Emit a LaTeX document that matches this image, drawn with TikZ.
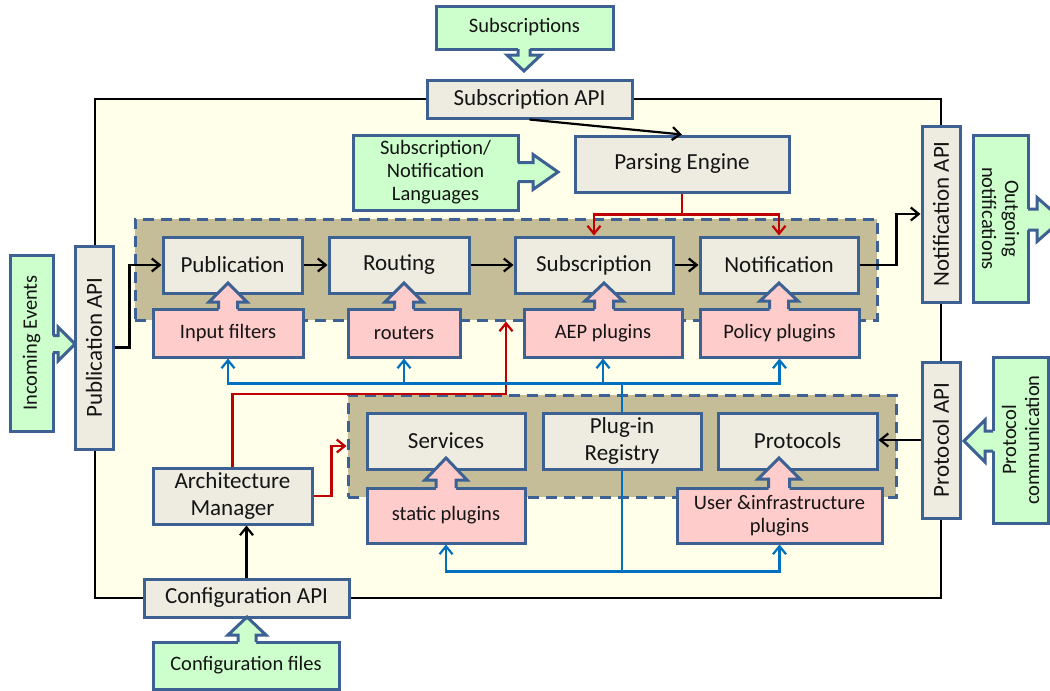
\documentclass[tikz,border=0pt]{standalone}
\usepackage{fontspec}
\setmainfont{Carlito}
\usetikzlibrary{arrows.meta}

\definecolor{bordc}{HTML}{3C6192}
\definecolor{grayf}{HTML}{EEECE1}
\definecolor{greenf}{HTML}{CCFFCC}
\definecolor{pinkf}{HTML}{FFCCCC}
\definecolor{tanf}{HTML}{C4BD97}
\definecolor{paper}{HTML}{FFFFEA}
\definecolor{redl}{HTML}{C00000}
\definecolor{bluel}{HTML}{0070C0}
\definecolor{inkc}{HTML}{141414}

\newcommand\lblbig{\fontsize{23}{26.5}\selectfont}
\newcommand\lblsmall{\fontsize{20.5}{23}\selectfont}

\tikzset{
  sz/.style 2 args={minimum width=#1pt, minimum height=#2pt},
  box/.style={draw=bordc, line width=3pt, inner sep=0pt, align=center, text=inkc, font=\lblbig},
  core/.style={box, fill=grayf},
  ext/.style={box, fill=greenf, font=\lblsmall},
  plug/.style={box, fill=pinkf, font=\lblsmall},
  grp/.style={draw=bordc, fill=tanf, line width=3pt, dash pattern=on 11pt off 7pt},
  frame/.style={draw=black, fill=paper, line width=2.8pt, inner sep=0pt},
  bord/.style={draw=bordc, line width=3pt},
  conn/.style={line width=2.2pt, -{Straight Barb[length=8pt,width=13pt]}},
  wire/.style={line width=2.2pt},
}

% block arrows growing out of a box edge
% #1 fill, #2 centre, #3 box edge, #4 head base, #5 tip, #6 stem half width, #7 head half width
\newcommand\blkup[7]{%
  \fill[#1] ({#2-#6},{#3+2}) -- ({#2-#6},#4) -- ({#2-#7},#4) -- (#2,#5) -- ({#2+#7},#4) -- ({#2+#6},#4) -- ({#2+#6},{#3+2}) -- cycle;
  \draw[bord] ({#2-#6},#3) -- ({#2-#6},#4) -- ({#2-#7},#4) -- (#2,#5) -- ({#2+#7},#4) -- ({#2+#6},#4) -- ({#2+#6},#3);}
\newcommand\blkdown[7]{%
  \fill[#1] ({#2-#6},{#3-2}) -- ({#2-#6},#4) -- ({#2-#7},#4) -- (#2,#5) -- ({#2+#7},#4) -- ({#2+#6},#4) -- ({#2+#6},{#3-2}) -- cycle;
  \draw[bord] ({#2-#6},#3) -- ({#2-#6},#4) -- ({#2-#7},#4) -- (#2,#5) -- ({#2+#7},#4) -- ({#2+#6},#4) -- ({#2+#6},#3);}
\newcommand\blkright[7]{%
  \fill[#1] ({#3-2},{#2-#6}) -- (#4,{#2-#6}) -- (#4,{#2-#7}) -- (#5,#2) -- (#4,{#2+#7}) -- (#4,{#2+#6}) -- ({#3-2},{#2+#6}) -- cycle;
  \draw[bord] (#3,{#2-#6}) -- (#4,{#2-#6}) -- (#4,{#2-#7}) -- (#5,#2) -- (#4,{#2+#7}) -- (#4,{#2+#6}) -- (#3,{#2+#6});}
\newcommand\blkleft[7]{%
  \fill[#1] ({#3+2},{#2-#6}) -- (#4,{#2-#6}) -- (#4,{#2-#7}) -- (#5,#2) -- (#4,{#2+#7}) -- (#4,{#2+#6}) -- ({#3+2},{#2+#6}) -- cycle;
  \draw[bord] (#3,{#2-#6}) -- (#4,{#2-#6}) -- (#4,{#2-#7}) -- (#5,#2) -- (#4,{#2+#7}) -- (#4,{#2+#6}) -- (#3,{#2+#6});}

\begin{document}
\begin{tikzpicture}[x=1pt, y=-1pt]
\useasboundingbox (0,0) rectangle (1050,691);
\clip (0,0) rectangle (1050,691);

% system frame
\node[frame, sz={846}{499}] (sys) at (518,348.5) {};

% component groups
\node[grp, sz={742}{101}] (gtop) at (506,269.5) {};
\node[grp, sz={548}{102}] (gbot) at (622,446) {};

% external inputs and outputs
\node[ext, sz={177}{43}] (subs) at (524.5,27.5) {Subscriptions};
\node[ext, sz={165}{75}] (lang) at (435.5,172.5) {Subscription/\\Notification\\Languages};
\node[ext, rotate=90, sz={176}{43}] (incoming) at (31.5,343) {Incoming Events};
\node[ext, rotate=-90, sz={167}{55}] (outg) at (1000.5,218.5) {Outgoing\\notifications};
\node[ext, rotate=90, sz={166}{55}] (protcomm) at (1020.5,440) {Protocol\\communication};
\node[ext, sz={186}{47}] (configf) at (246,665.5) {Configuration files};

% interfaces on the frame (the upright ones are turned by 90 degrees:
% their south anchor faces right, their north anchor faces left)
\node[core, sz={205}{38}] (subapi) at (529.5,99) {Subscription API};
\node[core, rotate=90, sz={203}{38}] (pubapi) at (94,347.5) {Publication API};
\node[core, rotate=90, sz={176}{38}] (notapi) at (941,214) {Notification API};
\node[core, rotate=90, sz={156}{38}] (protapi) at (941,440) {Protocol API};
\node[core, sz={205}{38}] (configapi) at (246.5,598) {Configuration API};

% engines
\node[core, sz={214}{56}] (parse) at (682,164) {Parsing Engine};
\node[core, sz={159}{56}] (arch) at (232.5,496) {Architecture\\Manager};

% processing chain
\node[core, sz={139}{56}] (pub) at (232.5,265) {Publication};
\node[core, sz={140}{56}] (rout) at (399,265) {Routing};
\node[core, sz={158}{56}] (subsc) at (594,265) {Subscription};
\node[core, sz={158}{56}] (notif) at (779,265) {Notification};

\node[plug, sz={150}{48}] (inf) at (228,333) {Input filters};
\node[plug, sz={112}{48}] (routers) at (404,333) {routers};
\node[plug, sz={158}{48}] (aep) at (603,333) {AEP plugins};
\node[plug, sz={159}{48}] (policy) at (779.5,333) {Policy plugins};

% support layer
\node[core, sz={158}{56}] (serv) at (446,441) {Services};
\node[core, sz={158}{56}] (reg) at (622,441) {Plug-in\\Registry};
\node[core, sz={159}{56}] (prot) at (797.5,441) {Protocols};
\node[plug, sz={158}{55}] (stat) at (446,515.5) {static plugins};
\node[plug, sz={205}{55}] (user) at (779.5,515.5) {User \&infrastructure\\plugins};

% block arrows
\blkdown{greenf}{524}{49}{55}{71}{6}{17}
\blkright{greenf}{172}{518}{533}{558}{9.5}{17.5}
\blkright{greenf}{344}{53}{58}{75}{8.5}{17}
\blkright{greenf}{219.5}{1028}{1037}{1062}{10.5}{22}
\blkleft{greenf}{441}{993}{985}{964}{10}{21}
\blkup{greenf}{247}{642}{635}{617}{9}{19}
\blkup{pinkf}{228}{309}{302}{283}{9.5}{19}
\blkup{pinkf}{404}{309}{302}{283}{9.5}{19}
\blkup{pinkf}{604}{309}{301}{283}{9.5}{19}
\blkup{pinkf}{779}{309}{301}{283}{9.5}{19}
\blkup{pinkf}{446}{488}{480}{458}{10}{21}
\blkup{pinkf}{779}{488}{479}{458}{10.5}{21}

% data flow
\draw[conn] (subapi.south) -- (parse.north);
\draw[conn] (pubapi.south) -- ++(15,0) |- (pub.west);
\draw[conn] (pub.east) -- (rout.west);
\draw[conn] (rout.east) -- (subsc.west);
\draw[conn] (subsc.east) -- (notif.west);
\draw[conn] (notif.east) -- ++(37,0) |- (notapi.north);
\draw[conn] (protapi.north) -- (protapi.north -| prot.east);
\draw[conn] (configapi.north) -- (configapi.north |- arch.south);

% control
\draw[conn, redl] (parse.south) -- ++(0,21) coordinate (pj) -| (subsc.north);
\draw[conn, redl] (pj) -| (notif.north);
\coordinate (rk) at (506,394);
\draw[conn, redl] (arch.north) |- (rk) -- (rk |- gtop.south);
\draw[conn, redl] (arch.east) -- ++(18,0) |- (gbot.west);

% plug-in distribution
\draw[wire, bluel] (reg.north) -- ++(0,-28) coordinate (bj);
\draw[conn, bluel] (bj) -| (inf.south);
\draw[conn, bluel] (bj) -| (routers.south);
\draw[conn, bluel] (bj) -| (aep.south);
\draw[conn, bluel] (bj) -| (policy.south);
\draw[wire, bluel] (reg.south) -- ++(0,101) coordinate (bk);
\draw[conn, bluel] (bk) -| (stat.south);
\draw[conn, bluel] (bk) -| (user.south);
\end{tikzpicture}
\end{document}
